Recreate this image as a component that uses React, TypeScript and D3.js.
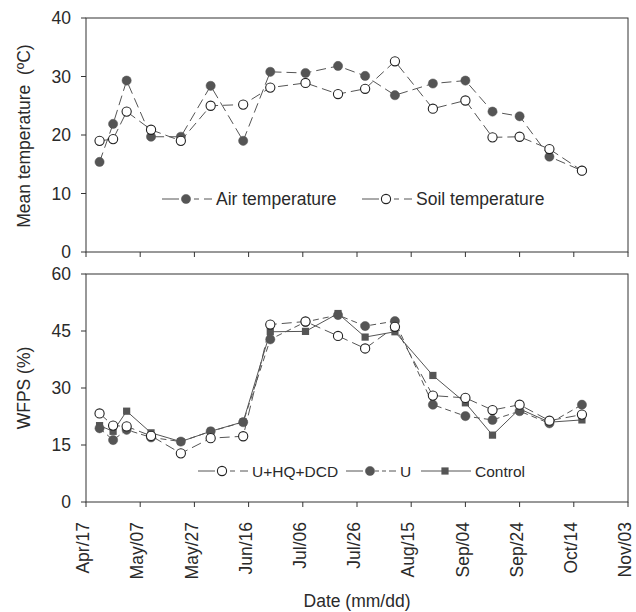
import React from "react";
import * as d3 from "d3";

const YEAR = 2013;
const sampleDates = ["04-22","04-27","05-02","05-11","05-22","06-02","06-14","06-24","07-07","07-19","07-29","08-09","08-23","09-04","09-14","09-24","10-05","10-17"];
const airTemp = [15.4,21.9,29.3,19.7,19.7,28.4,19.0,30.8,30.6,31.8,30.1,26.8,28.8,29.3,24.0,23.2,16.3,13.9];
const soilTemp = [19.0,19.3,24.0,20.9,19.0,25.0,25.2,28.1,28.9,27.0,27.9,32.6,24.5,25.9,19.6,19.7,17.6,13.9];
const wfpsUHQDCD = [23.3,20.1,19.9,17.4,12.8,16.8,17.3,46.7,47.5,43.7,40.4,46.1,28.0,27.4,24.2,25.6,21.4,23.0];
const wfpsU = [19.4,16.3,19.0,17.0,15.9,18.6,21.0,42.8,47.4,49.2,46.3,47.6,25.6,22.6,21.6,23.9,20.7,25.6];
const wfpsControl = [20.1,18.6,23.9,18.2,15.9,18.6,21.1,44.8,44.9,49.6,43.4,44.8,33.3,26.1,17.6,24.5,21.0,21.6];
const xTickDates = ["04-17","05-07","05-27","06-16","07-06","07-26","08-15","09-04","09-24","10-14","11-03"];
const tempTicks = [0,10,20,30,40];
const wfpsTicks = [0,15,30,45,60];

const parse = (s: string) => new Date(YEAR, +s.slice(0, 2) - 1, +s.slice(3, 5));
const fmt = d3.timeFormat("%b/%d");

const FONT = "'Liberation Sans', Arial, sans-serif";
const TXT = "#2a2a2a";
const AX = "#333";
const LINE = "#555";
const FILL = "#555";

const L = 86, R = 628;
const T1 = 18, B1 = 252;
const T2 = 274, B2 = 502;

const dates = sampleDates.map(parse);
const x = d3.scaleTime().domain([parse(xTickDates[0]), parse(xTickDates[xTickDates.length - 1])]).range([L, R]);
const y1 = d3.scaleLinear().domain([0, 40]).range([B1, T1]);
const y2 = d3.scaleLinear().domain([0, 60]).range([B2, T2]);

function Series({ vals, y, dash, marker }: { vals: number[]; y: any; dash?: string; marker: string }) {
  const line = d3.line<number>().x((_, i) => x(dates[i])).y((v) => y(v));
  return (
    <g>
      <path d={line(vals) || ""} fill="none" stroke={LINE} strokeWidth={1} strokeDasharray={dash} />
      {vals.map((v, i) => <Marker key={i} kind={marker} cx={x(dates[i])} cy={y(v)} />)}
    </g>
  );
}

function Marker({ kind, cx, cy }: { kind: string; cx: number; cy: number }) {
  if (kind === "open") return <circle cx={cx} cy={cy} r={4.6} fill="#fff" stroke="#222" strokeWidth={1.1} />;
  if (kind === "filled") return <circle cx={cx} cy={cy} r={4.6} fill={FILL} stroke={FILL} strokeWidth={0.5} />;
  return <rect x={cx - 3.6} y={cy - 3.6} width={7.2} height={7.2} fill={FILL} />;
}

function Frame({ top, bottom, y, ticks }: { top: number; bottom: number; y: any; ticks: number[] }) {
  return (
    <g>
      <rect x={L} y={top} width={R - L} height={bottom - top} fill="none" stroke={AX} strokeWidth={1} />
      {ticks.map((t) => (
        <g key={t}>
          <line x1={L - 5} x2={L} y1={y(t)} y2={y(t)} stroke={AX} />
          <text x={L - 15} y={y(t)} dy="0.36em" textAnchor="end" fontSize={17.5} fill={TXT} fontFamily={FONT}>{t}</text>
        </g>
      ))}
      {xTickDates.map((d) => (
        <line key={d} x1={x(parse(d))} x2={x(parse(d))} y1={bottom} y2={bottom + 5} stroke={AX} />
      ))}
    </g>
  );
}

function LegendItem({ x0, yy, dash, marker, label, fs }: { x0: number; yy: number; dash?: string; marker: string; label: string; fs: number }) {
  return (
    <g>
      <line x1={x0} x2={x0 + 50} y1={yy} y2={yy} stroke={LINE} strokeDasharray={dash} />
      <Marker kind={marker} cx={x0 + 24} cy={yy} />
      <text x={x0 + 54} y={yy} dy="0.36em" fontSize={fs} fill={TXT} fontFamily={FONT}>{label}</text>
    </g>
  );
}

export default function App() {
  return (
    <svg width={636} height={612} style={{ position: "absolute", left: 0, top: 0, background: "#fff" }}>
      <Frame top={T1} bottom={B1} y={y1} ticks={tempTicks} />
      <Frame top={T2} bottom={B2} y={y2} ticks={wfpsTicks} />

      <Series vals={airTemp} y={y1} dash="10 5" marker="filled" />
      <Series vals={soilTemp} y={y1} dash="10 5" marker="open" />

      <Series vals={wfpsControl} y={y2} marker="square" />
      <Series vals={wfpsU} y={y2} dash="6 4" marker="filled" />
      <Series vals={wfpsUHQDCD} y={y2} dash="10 5" marker="open" />

      <LegendItem x0={162} yy={199} dash="17 5 5 5 5 5" marker="filled" label="Air temperature" fs={17.5} />
      <LegendItem x0={362} yy={199} dash="17 5 5 5 5 5" marker="open" label="Soil temperature" fs={17.5} />

      <LegendItem x0={198} yy={471} dash="17 5 5 5 5 5" marker="open" label="U+HQ+DCD" fs={15.5} />
      <LegendItem x0={346} yy={471} dash="17 5 4 3 4 3 4 3" marker="filled" label="U" fs={15.5} />
      <LegendItem x0={421} yy={471} marker="square" label="Control" fs={15.5} />

      {xTickDates.map((d) => (
        <text key={d} transform={`translate(${x(parse(d))},${B2 + 20}) rotate(-90)`} dy="0.18em" textAnchor="end" fontSize={17.5} fill={TXT} fontFamily={FONT}>{fmt(parse(d))}</text>
      ))}

      <text transform={`translate(30,${(T1 + B1) / 2 + 1}) rotate(-90)`} textAnchor="middle" fontSize={17.5} fill={TXT} fontFamily={FONT} style={{ whiteSpace: "pre" }}>{"Mean temperature  (ºC)"}</text>
      <text transform={`translate(30,${(T2 + B2) / 2}) rotate(-90)`} textAnchor="middle" fontSize={17.5} fill={TXT} fontFamily={FONT}>WFPS (%)</text>
      <text x={(L + R) / 2} y={607} textAnchor="middle" fontSize={17.5} fill={TXT} fontFamily={FONT}>Date (mm/dd)</text>
    </svg>
  );
}
